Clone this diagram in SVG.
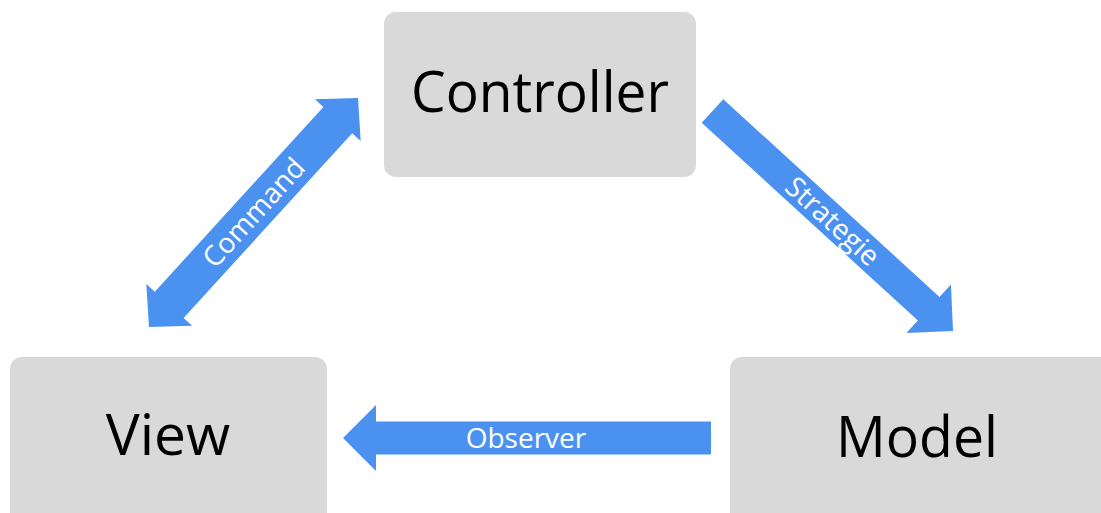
<svg xmlns="http://www.w3.org/2000/svg" width="1101" height="513" viewBox="0 0 1101 513">
  <style>
    .box { fill: #d9d9d9; }
    .node-label { font-family: "Open Sans", "Noto Sans", sans-serif; font-size: 57px; fill: #000000; text-anchor: middle; }
    .arrow { fill: #4b91f0; }
    .arrow-label { font-family: "Open Sans", "Noto Sans", sans-serif; font-size: 28px; fill: #ffffff; text-anchor: middle; }
  </style>
  <rect width="1101" height="513" fill="#ffffff"/>
  <g id="controller">
    <rect class="box" x="384" y="12" width="312" height="165" rx="12" ry="12"/>
    <text class="node-label" x="540" y="112" textLength="258" lengthAdjust="spacingAndGlyphs">Controller</text>
  </g>
  <g id="view">
    <rect class="box" x="10" y="357" width="317" height="200" rx="12" ry="12"/>
    <text class="node-label" x="168" y="455">View</text>
  </g>
  <g id="model">
    <rect class="box" x="730" y="357" width="400" height="200" rx="12" ry="12"/>
    <text class="node-label" x="917" y="457" textLength="162" lengthAdjust="spacingAndGlyphs">Model</text>
  </g>
  <g id="connectors">
    <g id="command" transform="translate(253.5 212.5) rotate(-47.6)">
      <path class="arrow" d="M -155 0 L -125 -31 L -125 -19.5 L 125 -19.5 L 125 -31 L 155 0 L 125 31 L 125 19.5 L -125 19.5 L -125 31 Z"/>
      <text class="arrow-label" x="0" y="10">Command</text>
    </g>
    <g id="strategie" transform="translate(832.75 221) rotate(42.45)">
      <path class="arrow" d="M -163 -16 L 130 -16 L 130 -33 L 163 0 L 130 33 L 130 16 L -163 16 Z"/>
      <text class="arrow-label" x="0" y="10">Strategie</text>
    </g>
    <g id="observer">
      <path class="arrow" d="M 343 438 L 376 405 L 376 421.5 L 711 421.5 L 711 454.5 L 376 454.5 L 376 471 Z"/>
      <text class="arrow-label" x="526" y="447.5">Observer</text>
    </g>
  </g>
</svg>
